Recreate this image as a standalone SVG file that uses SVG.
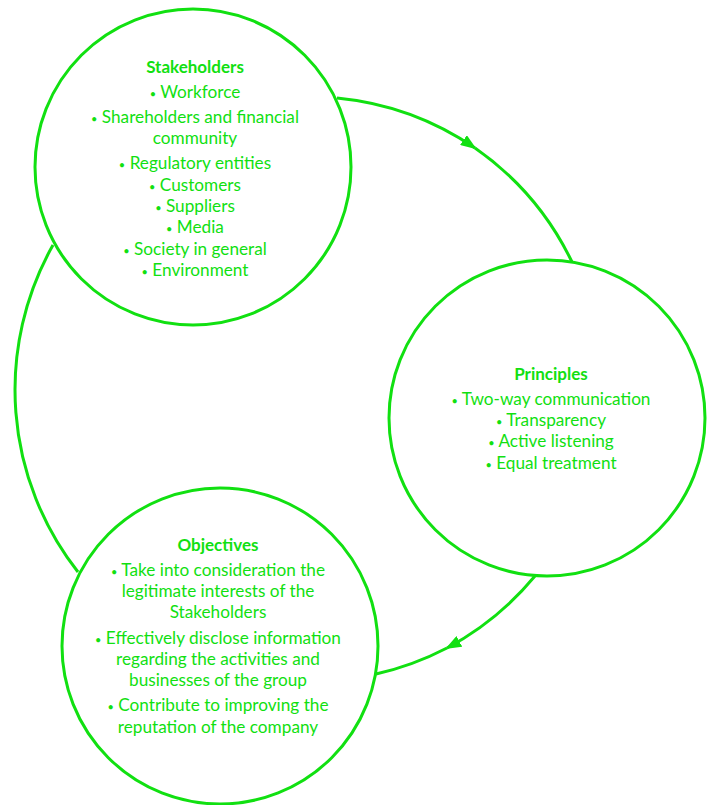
<svg xmlns="http://www.w3.org/2000/svg" width="711" height="805" viewBox="0 0 711 805">
<style>
.node{fill:#ffffff;stroke:#11e011;stroke-width:3}
.conn{fill:none;stroke:#11e011;stroke-width:3}
text{font-family:Lato,"Open Sans",sans-serif;font-size:17.2px;fill:#11e011;text-anchor:middle}
.t{font-weight:bold;font-size:17px}
.b{font-size:11px}
</style>
<defs>
<marker id="arr" markerWidth="16" markerHeight="12" refX="14" refY="6" orient="auto" markerUnits="userSpaceOnUse">
<path d="M0,0 L16,6 L0,12 Z" fill="#11e011"/>
</marker>
</defs>
<g id="connectors">
<path class="conn" d="M337,98 A295,295 0 0,1 475,148" marker-end="url(#arr)"/>
<path class="conn" d="M475,148 A295,295 0 0,1 572,262"/>
<path class="conn" d="M535,576 A295,295 0 0,1 447,648" marker-end="url(#arr)"/>
<path class="conn" d="M447,648 A295,295 0 0,1 376,674"/>
<path class="conn" d="M78,572 A295,295 0 0,1 53,245"/>
</g>
<g id="stakeholders">
<circle class="node" cx="193" cy="167" r="158"/>
<text class="t" x="195" y="73">Stakeholders</text>
<text x="195" y="98"><tspan class="b">•</tspan> Workforce</text>
<text x="195" y="123"><tspan class="b">•</tspan> Shareholders and financial</text>
<text x="195" y="144">community</text>
<text x="195" y="169"><tspan class="b">•</tspan> Regulatory entities</text>
<text x="195" y="191"><tspan class="b">•</tspan> Customers</text>
<text x="195" y="212"><tspan class="b">•</tspan> Suppliers</text>
<text x="195" y="233"><tspan class="b">•</tspan> Media</text>
<text x="195" y="255"><tspan class="b">•</tspan> Society in general</text>
<text x="195" y="276"><tspan class="b">•</tspan> Environment</text>
</g>
<g id="principles">
<circle class="node" cx="547" cy="418" r="158"/>
<text class="t" x="551" y="380">Principles</text>
<text x="551" y="405"><tspan class="b">•</tspan> Two-way communication</text>
<text x="551" y="426"><tspan class="b">•</tspan> Transparency</text>
<text x="551" y="447"><tspan class="b">•</tspan> Active listening</text>
<text x="551" y="469"><tspan class="b">•</tspan> Equal treatment</text>
</g>
<g id="objectives">
<circle class="node" cx="220" cy="646" r="158"/>
<text class="t" x="218" y="551">Objectives</text>
<text x="218" y="576"><tspan class="b">•</tspan> Take into consideration the</text>
<text x="218" y="597">legitimate interests of the</text>
<text x="218" y="618">Stakeholders</text>
<text x="218" y="644"><tspan class="b">•</tspan> Effectively disclose information</text>
<text x="218" y="665">regarding the activities and</text>
<text x="218" y="686">businesses of the group</text>
<text x="218" y="711"><tspan class="b">•</tspan> Contribute to improving the</text>
<text x="218" y="733">reputation of the company</text>
</g>
</svg>
